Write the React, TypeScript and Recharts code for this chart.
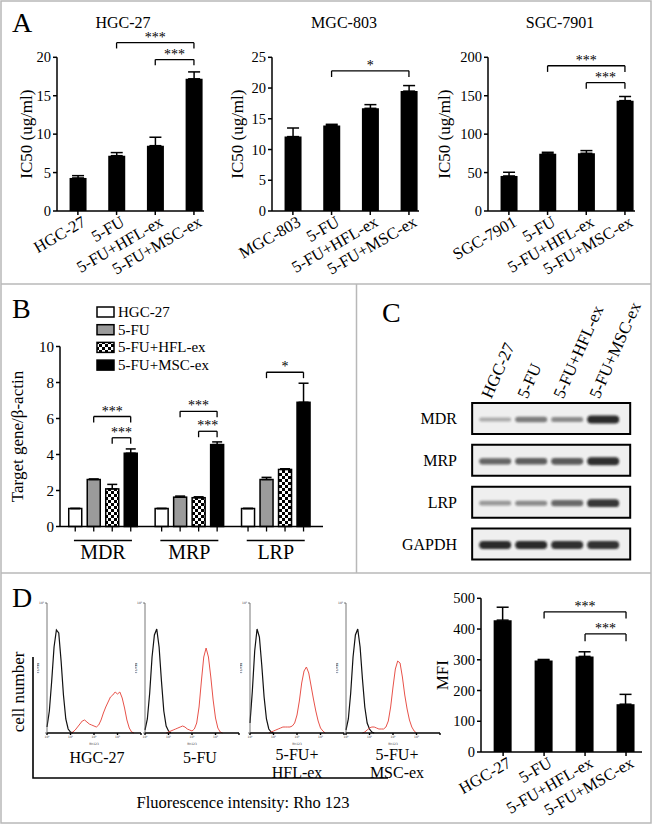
import React from 'react'
import {
  BarChart, Bar, XAxis, YAxis, ErrorBar, ReferenceLine, ReferenceArea,
  LineChart, Line, ScatterChart, Scatter, Legend,
} from 'recharts'

const FONT = "'Liberation Serif', 'Times New Roman', Times, serif"

// ---------- A: IC50 ----------
const hgcGroups = ['HGC-27', '5-FU', '5-FU+HFL-ex', '5-FU+MSC-ex']
const hgcIC50 = [4.3, 7.2, 8.5, 17.2]
const hgcSem = [0.3, 0.4, 1.1, 0.9]
const hgcTicks = [0, 5, 10, 15, 20]

const mgcGroups = ['MGC-803', '5-FU', '5-FU+HFL-ex', '5-FU+MSC-ex']
const mgcIC50 = [12.1, 13.9, 16.7, 19.5]
const mgcSem = [1.4, 0.2, 0.6, 0.9]
const mgcTicks = [0, 5, 10, 15, 20, 25]

const sgcGroups = ['SGC-7901', '5-FU', '5-FU+HFL-ex', '5-FU+MSC-ex']
const sgcIC50 = [45.6, 74.4, 75.1, 143.6]
const sgcSem = [4.8, 2.0, 3.5, 5.4]
const sgcTicks = [0, 50, 100, 150, 200]

type Sig = { from: number; to: number; y: number; drop: number; mark: string }

const hgcSig: Sig[] = [
  { from: 1, to: 3, y: 21.9, drop: 0.75, mark: '***' },
  { from: 2, to: 3, y: 19.7, drop: 0.75, mark: '***' },
]
const mgcSig: Sig[] = [{ from: 1, to: 3, y: 22.8, drop: 1.0, mark: '*' }]
const sgcSig: Sig[] = [
  { from: 1, to: 3, y: 189, drop: 8, mark: '***' },
  { from: 2, to: 3, y: 167, drop: 8, mark: '***' },
]

// ---------- B: qPCR ----------
const genes = ['MDR', 'MRP', 'LRP']
const qNames = ['HGC-27', '5-FU', '5-FU+HFL-ex', '5-FU+MSC-ex']
const qHgc = [1, 1, 1]
const qHgcSem = [0, 0, 0]
const qFu = [2.61, 1.63, 2.61]
const qFuSem = [0.03, 0.06, 0.12]
const qHfl = [2.09, 1.6, 3.17]
const qHflSem = [0.25, 0.05, 0.04]
const qMsc = [4.07, 4.55, 6.9]
const qMscSem = [0.24, 0.15, 1.06]
const qTicks = [0, 2, 4, 6, 8, 10]
// gene index, bar slots (0..3) and height of the bracket
const qSig = [
  { gene: 0, from: 1, to: 3, y: 6.11, mark: '***' },
  { gene: 0, from: 2, to: 3, y: 4.93, mark: '***' },
  { gene: 1, from: 1, to: 3, y: 6.4, mark: '***' },
  { gene: 1, from: 2, to: 3, y: 5.29, mark: '***' },
  { gene: 2, from: 1, to: 3, y: 8.57, mark: '*' },
]

// ---------- C: western blot (band strength 0..1) ----------
const blotLanes = ['HGC-27', '5-FU', '5-FU+HFL-ex', '5-FU+MSC-ex']
const blotRows = ['MDR', 'MRP', 'LRP', 'GAPDH']
const mdrBand = [0.25, 0.5, 0.42, 0.95]
const mrpBand = [0.62, 0.66, 0.68, 0.92]
const lrpBand = [0.35, 0.42, 0.6, 0.88]
const gapdhBand = [0.95, 0.95, 0.92, 0.9]

// ---------- D: Rho123 histograms + MFI ----------
const decades = ['10⁰', '10¹', '10²', '10³', '10⁴']
const hgcCtrl = [6, 22, 52, 86, 103, 100, 72, 38, 14, 4, 1, 0]
const hgcRho = { start: 10, counts: [0, 1, 3, 6, 9, 12, 13, 11, 9, 8, 7, 6, 8, 13, 20, 26, 31, 36, 38, 41, 39, 41, 35, 25, 13, 5, 1, 0] }
const fuCtrl = [3, 14, 40, 76, 98, 104, 86, 52, 22, 7, 2, 0]
const fuRho = { start: 9, counts: [0, 1, 2, 3, 4, 5, 6, 7, 6, 4, 3, 2, 4, 10, 26, 52, 76, 85, 76, 56, 33, 15, 5, 1, 0] }
const hflCtrl = [10, 42, 82, 104, 96, 68, 36, 14, 4, 1, 0]
const hflRho = { start: 8, counts: [0, 1, 2, 3, 4, 5, 6, 6, 6, 6, 7, 10, 18, 32, 50, 62, 66, 60, 47, 34, 22, 12, 5, 2, 0] }
const mscCtrl = [3, 14, 40, 76, 98, 104, 86, 54, 26, 10, 4, 1, 0]
const mscRho = { start: 7, counts: [0, 1, 3, 5, 6, 6, 5, 4, 4, 4, 6, 12, 26, 46, 64, 72, 70, 56, 38, 24, 13, 6, 2, 0] }

const mfiGroups = ['HGC-27', '5-FU', '5-FU+HFL-ex', '5-FU+MSC-ex']
const mfiValues = [429, 298, 311, 155.5]
const mfiSem = [42, 3, 15, 32]
const mfiTicks = [0, 100, 200, 300, 400, 500]
const mfiSig: Sig[] = [
  { from: 1, to: 3, y: 456, drop: 22, mark: '***' },
  { from: 2, to: 3, y: 384, drop: 24, mark: '***' },
]

// ---------- helpers ----------
const ink = { stroke: '#000', strokeWidth: 1.5 }

function sigLines(sig: Sig[]) {
  const line = { stroke: '#000', strokeWidth: 1.3, ifOverflow: 'visible' as const }
  return sig.flatMap((s, k) => [
    <ReferenceLine
      key={`h${k}`}
      {...line}
      segment={[{ x: s.from, y: s.y }, { x: s.to, y: s.y }]}
      label={{ value: s.mark, position: 'top', offset: 1, fontSize: 14, fill: '#000', fontFamily: FONT }}
    />,
    <ReferenceLine key={`l${k}`} {...line} segment={[{ x: s.from, y: s.y }, { x: s.from, y: s.y - s.drop }]} />,
    <ReferenceLine key={`r${k}`} {...line} segment={[{ x: s.to, y: s.y }, { x: s.to, y: s.y - s.drop }]} />,
  ])
}

const yLabel = (text: string, dx: number, size: number) => ({
  content: (p: any) => {
    const vb = p.viewBox
    const cx = vb.x + dx
    const cy = vb.y + vb.height / 2
    return (
      <text x={cx} y={cy} transform={`rotate(-90 ${cx} ${cy})`} textAnchor="middle"
        dominantBaseline="central" fontSize={size} fontFamily={FONT} fill="#000">{text}</text>
    )
  },
})

const slantTick = (names: string[]) => (p: any) => {
  const x = p.x + 9
  const y = p.y + 8
  return (
    <text x={x} y={y} transform={`rotate(-30 ${x} ${y})`} textAnchor="end" fontSize={16.5}
      fontFamily={FONT} fill="#000">{names[p.payload.value]}</text>
  )
}

type GroupProps = {
  left: number; top: number; width: number; height: number
  margin: { top: number; right: number; bottom: number; left: number }
  xDomain: [number, number]
  groups: string[]; values: number[]; sem: number[]; ticks: number[]; sig: Sig[]
  yTitle: string; titleDx: number; barSize: number
}

function GroupBars(props: GroupProps) {
  const { groups, values, sem, ticks } = props
  const data = groups.map((name, i) => ({ i, name, v: values[i], err: [0, sem[i]] }))
  return (
    <div style={{ position: 'absolute', left: props.left, top: props.top }}>
      <BarChart width={props.width} height={props.height} data={data} margin={props.margin}>
        <XAxis type="number" dataKey="i" domain={props.xDomain} ticks={[0, 1, 2, 3]} height={60}
          tickSize={4} tickMargin={2} {...ink} tick={slantTick(groups)} />
        <YAxis type="number" domain={[0, ticks[ticks.length - 1]]} ticks={ticks} width={32}
          tickSize={4} tickMargin={2} {...ink} tick={{ fill: '#000', fontSize: 14.5, fontFamily: FONT }}
          label={yLabel(props.yTitle, props.titleDx, 17)} />
        <Bar dataKey="v" fill="#000" barSize={props.barSize} isAnimationActive={false}>
          <ErrorBar dataKey="err" width={6} stroke="#000" strokeWidth={1.5} direction="y" isAnimationActive={false} />
        </Bar>
        {sigLines(props.sig)}
      </BarChart>
    </div>
  )
}

// ---------- B ----------
const qKeys = ['hgc', 'fu', 'hfl', 'msc']
const qFill: Record<string, string> = { hgc: '#ffffff', fu: '#9b9b9b', hfl: 'url(#checker)', msc: '#000000' }
const Q_DOMAIN: [number, number] = [-0.497, 2.547]
const Q_PLOT_W = 263
const Q_BAR = 13
const Q_GAP = 5.5
const slotX = (g: number, j: number) =>
  g + ((j - 1.5) * (Q_BAR + Q_GAP) * (Q_DOMAIN[1] - Q_DOMAIN[0])) / Q_PLOT_W

const tickedBar = (fill: string) => (p: any) => {
  const cx = p.x + p.width / 2
  const base = p.y + p.height
  return (
    <g>
      <rect x={p.x} y={p.y} width={p.width} height={p.height} fill={fill} stroke="#000" strokeWidth={1.5} />
      <line x1={cx} x2={cx} y1={base} y2={base + 5} stroke="#000" strokeWidth={1.3} />
    </g>
  )
}

const GeneTick = (p: any) => (
  <g>
    <line x1={p.x - 29} x2={p.x + 29} y1={p.y + 14} y2={p.y + 14} stroke="#000" strokeWidth={1.3} />
    <text x={p.x} y={p.y + 32} textAnchor="middle" fontSize={20} fontFamily={FONT} fill="#000">
      {genes[p.payload.value]}
    </text>
  </g>
)

const QLegend = () => (
  <svg width={140} height={70} style={{ display: 'block' }}>
    {qKeys.map((k, i) => (
      <g key={k}>
        <rect x={1} y={2 + i * 17.7} width={17} height={10} fill={qFill[k]} stroke="#000" strokeWidth={1.5} />
        <text x={22} y={12 + i * 17.7} fontSize={15} fontFamily={FONT} fill="#000">{qNames[i]}</text>
      </g>
    ))}
  </svg>
)

function QpcrChart() {
  const data = genes.map((gene, g) => ({
    g, gene,
    hgc: qHgc[g], hgcErr: [0, qHgcSem[g]],
    fu: qFu[g], fuErr: [0, qFuSem[g]],
    hfl: qHfl[g], hflErr: [0, qHflSem[g]],
    msc: qMsc[g], mscErr: [0, qMscSem[g]],
  }))
  const sig: Sig[] = qSig.map((s) => ({
    from: slotX(s.gene, s.from), to: slotX(s.gene, s.to), y: s.y, drop: 0.33, mark: s.mark,
  }))
  return (
    <div style={{ position: 'absolute', left: 0, top: 284 }}>
      <BarChart width={356} height={288} data={data} barGap={Q_GAP}
        margin={{ top: 62.5, right: 33, bottom: 5.5, left: 28 }}>
        <defs>
          <pattern id="checker" width={6} height={6} patternUnits="userSpaceOnUse">
            <rect width={6} height={6} fill="#fff" />
            <rect width={3} height={3} fill="#000" />
            <rect x={3} y={3} width={3} height={3} fill="#000" />
          </pattern>
        </defs>
        <XAxis type="number" dataKey="g" domain={Q_DOMAIN} ticks={[0, 1, 2]} height={40}
          tickSize={0} tickMargin={0} {...ink} tick={GeneTick} />
        <YAxis type="number" domain={[0, 10]} ticks={qTicks} width={32} tickSize={4} tickMargin={2} {...ink}
          tick={{ fill: '#000', fontSize: 15, fontFamily: FONT }}
          label={yLabel('Target gene/β-actin', -11, 17)} />
        {qKeys.map((k) => (
          <Bar key={k} dataKey={k} barSize={Q_BAR} shape={tickedBar(qFill[k])} isAnimationActive={false}>
            <ErrorBar dataKey={`${k}Err`} width={5} stroke="#000" strokeWidth={1.5} direction="y" isAnimationActive={false} />
          </Bar>
        ))}
        <Legend layout="vertical" align="center" verticalAlign="middle"
          wrapperStyle={{ left: 96, top: 21, width: 140 }} content={() => <QLegend />} />
        {sigLines(sig)}
      </BarChart>
    </div>
  )
}

// ---------- C ----------
const LaneTick = (p: any) => {
  const x = p.x - 4
  const y = p.y + 4
  return (
    <text x={x} y={y} transform={`rotate(-66 ${x} ${y})`} textAnchor="start" fontSize={17}
      fontFamily={FONT} fill="#000">{blotLanes[p.payload.value]}</text>
  )
}

const BlotBand = (p: any) => {
  const v = p.payload.v
  const h = 2.5 + 6 * v
  return (
    <rect x={p.cx - 16} y={p.cy - h / 2 + 1} width={32} height={h} rx={h / 2}
      fill="#151515" opacity={0.1 + 0.85 * v} filter="url(#bandBlur)" />
  )
}

function BlotChart() {
  const bands = [mdrBand, mrpBand, lrpBand, gapdhBand]
  const data = blotRows.flatMap((_, r) => bands[r].map((v, lane) => ({ lane, row: r, v })))
  return (
    <div style={{ position: 'absolute', left: 357, top: 284 }}>
      <ScatterChart width={294} height={288} margin={{ top: 11.5, right: 19, bottom: 5, left: 13 }}>
        <defs>
          <filter id="bandBlur" x="-30%" y="-150%" width="160%" height="400%">
            <feGaussianBlur stdDeviation={1.3} />
          </filter>
        </defs>
        <XAxis type="number" dataKey="lane" orientation="top" domain={[-0.7, 3.8]} ticks={[0, 1, 2, 3]}
          height={100} axisLine={false} tickLine={false} tickSize={0} tickMargin={0} tick={LaneTick} />
        <YAxis type="number" dataKey="row" domain={[-0.55, 3.55]} reversed ticks={[0, 1, 2, 3]} width={100}
          axisLine={false} tickLine={false} tickSize={0} tickMargin={13}
          tickFormatter={(v: number) => blotRows[v]}
          tick={{ fill: '#000', fontSize: 16, fontFamily: FONT }} />
        {blotRows.map((row, r) => (
          <ReferenceArea key={row} x1={-0.64} x2={3.75} y1={r - 0.37} y2={r + 0.37}
            fill="#efefef" fillOpacity={1} stroke="#000" strokeWidth={2} ifOverflow="visible" />
        ))}
        <Scatter data={data} shape={BlotBand} isAnimationActive={false} />
      </ScatterChart>
    </div>
  )
}

// ---------- D ----------
function FlowHist({ left, ctrl, rho }: { left: number; ctrl: number[]; rho: { start: number; counts: number[] } }) {
  const last = Math.max(ctrl.length, rho.start + rho.counts.length)
  const rows = Array.from({ length: last }, (_, bin) => ({
    bin,
    k: bin < ctrl.length ? ctrl[bin] : null,
    r: bin >= rho.start && bin < rho.start + rho.counts.length ? rho.counts[bin - rho.start] : null,
  }))
  const tiny = { fontSize: 3, fill: '#444', fontFamily: 'DejaVu Sans' }
  return (
    <div style={{ position: 'absolute', left, top: 598 }}>
      <LineChart width={109} height={150} data={rows} margin={{ top: 5, right: 5, bottom: 3, left: 2 }}>
        <XAxis type="number" dataKey="bin" domain={[0, 40]} ticks={[0, 10, 20, 30, 40]} height={12}
          tickSize={2} tickMargin={1} stroke="#000" strokeWidth={1.4} tick={tiny}
          tickFormatter={(v: number) => (v < 40 ? decades[v / 10] : '')}
          label={{ value: 'Rh123', position: 'insideBottom', offset: 0, ...tiny }} />
        <YAxis type="number" domain={[0, 130]} ticks={[0, 130]} width={8} tickSize={2} tickMargin={1}
          stroke="#555" strokeWidth={0.8} tick={tiny} tickFormatter={(v: number) => (v ? '10³' : '')}
          label={yLabel('# Events', -1, 3)} />
        <Line dataKey="k" stroke="#111" strokeWidth={1.2} dot={false} isAnimationActive={false} />
        <Line dataKey="r" stroke="#e8524a" strokeWidth={1} dot={false} isAnimationActive={false} />
      </LineChart>
    </div>
  )
}

// ---------- page ----------
const txt = { fontFamily: FONT, fill: '#000' }

export default function App() {
  return (
    <div style={{ position: 'absolute', left: 0, top: 0, width: 653, height: 825, background: '#fff' }}>
      <svg width={653} height={825} style={{ position: 'absolute', left: 0, top: 0 }}>
        <rect x={1} y={1} width={650} height={822} fill="none" stroke="#b8b8b8" strokeWidth={1.5} />
        <line x1={1} x2={651} y1={284} y2={284} stroke="#b8b8b8" strokeWidth={1.5} />
        <line x1={356.5} x2={356.5} y1={284} y2={573} stroke="#b8b8b8" strokeWidth={1.5} />
        <line x1={1} x2={651} y1={573} y2={573} stroke="#b8b8b8" strokeWidth={1.5} />

        <text x={12} y={32} fontSize={28} {...txt}>A</text>
        <text x={12} y={318} fontSize={28} {...txt}>B</text>
        <text x={382} y={322} fontSize={28} {...txt}>C</text>
        <text x={12} y={607} fontSize={28} {...txt}>D</text>

        <text x={123} y={28} fontSize={16} textAnchor="middle" {...txt}>HGC-27</text>
        <text x={344} y={28} fontSize={16} textAnchor="middle" {...txt}>MGC-803</text>
        <text x={560} y={28} fontSize={16} textAnchor="middle" {...txt}>SGC-7901</text>

        <polyline points="33,657 33,778 388,778" fill="none" stroke="#000" strokeWidth={1.6} />
        <text x={18} y={692} fontSize={17} textAnchor="middle" dominantBaseline="central"
          transform="rotate(-90 18 692)" {...txt}>cell number</text>
        <text x={243} y={808} fontSize={16.5} textAnchor="middle" {...txt}>Fluorescence intensity: Rho 123</text>
        <text x={97} y={763} fontSize={16} textAnchor="middle" {...txt}>HGC-27</text>
        <text x={200} y={763} fontSize={16} textAnchor="middle" {...txt}>5-FU</text>
        <text x={297} y={760} fontSize={16} textAnchor="middle" {...txt}>5-FU+</text>
        <text x={297} y={778} fontSize={16} textAnchor="middle" {...txt}>HFL-ex</text>
        <text x={397} y={760} fontSize={16} textAnchor="middle" {...txt}>5-FU+</text>
        <text x={397} y={778} fontSize={16} textAnchor="middle" {...txt}>MSC-ex</text>
      </svg>

      <GroupBars left={0} top={0} width={230} height={283}
        margin={{ top: 57.3, right: 26, bottom: 12, left: 25 }} xDomain={[-0.54, 3.26]}
        groups={hgcGroups} values={hgcIC50} sem={hgcSem} ticks={hgcTicks} sig={hgcSig}
        yTitle="IC50 (ug/ml)" titleDx={2} barSize={17} />
      <GroupBars left={215} top={0} width={230} height={283}
        margin={{ top: 57.3, right: 26, bottom: 12, left: 25 }} xDomain={[-0.54, 3.26]}
        groups={mgcGroups} values={mgcIC50} sem={mgcSem} ticks={mgcTicks} sig={mgcSig}
        yTitle="IC50 (ug/ml)" titleDx={-2} barSize={17} />
      <GroupBars left={431} top={0} width={222} height={283}
        margin={{ top: 57.3, right: 18, bottom: 12, left: 25 }} xDomain={[-0.54, 3.26]}
        groups={sgcGroups} values={sgcIC50} sem={sgcSem} ticks={sgcTicks} sig={sgcSig}
        yTitle="IC50 (ug/ml)" titleDx={-11} barSize={17} />

      <QpcrChart />
      <BlotChart />

      <FlowHist left={37} ctrl={hgcCtrl} rho={hgcRho} />
      <FlowHist left={135} ctrl={fuCtrl} rho={fuRho} />
      <FlowHist left={240} ctrl={hflCtrl} rho={hflRho} />
      <FlowHist left={336} ctrl={mscCtrl} rho={mscRho} />

      <GroupBars left={415} top={573} width={238} height={250}
        margin={{ top: 25.3, right: 11, bottom: 11, left: 34 }} xDomain={[-0.54, 3.39]}
        groups={mfiGroups} values={mfiValues} sem={mfiSem} ticks={mfiTicks} sig={mfiSig}
        yTitle="MFI" titleDx={-6} barSize={18} />
    </div>
  )
}
